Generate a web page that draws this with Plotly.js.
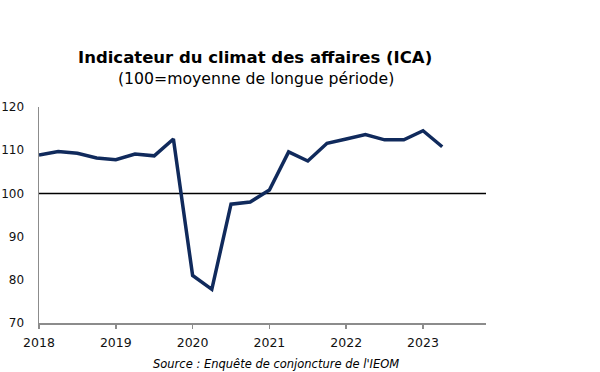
<!DOCTYPE html>
<html>
<head>
<meta charset="utf-8">
<script src="https://cdn.plot.ly/plotly-3.0.1.min.js"></script>
<style>html,body{margin:0;padding:0;background:#fff;}#chart{width:600px;height:372px;}</style>
</head>
<body>
<div id="chart"></div>
<script>
var quarters = ["2018T1","2018T2","2018T3","2018T4","2019T1","2019T2","2019T3","2019T4","2020T1","2020T2","2020T3","2020T4","2021T1","2021T2","2021T3","2021T4","2022T1","2022T2","2022T3","2022T4","2023T1","2023T2"];
var icaValues = [108.9,109.7,109.3,108.2,107.8,109.1,108.7,112.6,81.0,77.8,97.5,98.0,100.8,109.6,107.5,111.6,112.6,113.6,112.4,112.4,114.5,110.8];
var yearTicks = [2018,2019,2020,2021,2022,2023];
var yearLabels = ["2018","2019","2020","2021","2022","2023"];
var referenceLevel = 100;

var xPos = quarters.map(function(q){ return parseInt(q.slice(0,4)) + (parseInt(q.slice(5)) - 1) / 4; });

var font = "DejaVu Sans, Verdana, sans-serif";
var data = [{
  x: xPos, y: icaValues, type: "scatter", mode: "lines",
  line: {color: "#102a5c", width: 3.5},
  hoverinfo: "skip"
}];
var layout = {
  width: 600, height: 372,
  margin: {l: 39, r: 114, t: 107, b: 49},
  paper_bgcolor: "#fff", plot_bgcolor: "#fff",
  showlegend: false,
  xaxis: {
    range: [2018, 2023.82], tickvals: yearTicks, ticktext: yearLabels,
    showgrid: false, zeroline: false, showline: true, linecolor: "#8c8c8c", linewidth: 1.5,
    ticks: "outside", ticklen: 4, tickcolor: "#8c8c8c", tickwidth: 1.5,
    ticklabelstandoff: 3,
    tickfont: {family: font, size: 12.5, color: "#111"}
  },
  yaxis: {
    range: [70, 120], dtick: 10, tick0: 70,
    showgrid: false, zeroline: false, showline: true, linecolor: "#8c8c8c", linewidth: 1.5,
    ticks: "", ticklabelstandoff: 11,
    tickfont: {family: font, size: 12, color: "#111"}
  },
  shapes: [{type: "line", xref: "paper", x0: 0, x1: 1, yref: "y", y0: referenceLevel, y1: referenceLevel,
    line: {color: "#000", width: 1.5}, layer: "below"}],
  annotations: [
    {text: "<b>Indicateur du climat des affaires (ICA)</b>", xref: "paper", yref: "paper",
     x: (254.5-39)/447, y: 1 + (107-58)/215.6, xanchor: "center", yanchor: "middle", showarrow: false,
     font: {family: font, size: 16.5, color: "#000"}},
    {text: "(100=moyenne de longue période)", xref: "paper", yref: "paper",
     x: (255.5-39)/447, y: 1 + (107-79)/215.6, xanchor: "center", yanchor: "middle", showarrow: false,
     font: {family: font, size: 15.7, color: "#000"}},
    {text: "<i>Source : Enquête de conjoncture de l'IEOM</i>", xref: "paper", yref: "paper",
     x: (275.5-39)/447, y: -(364-323)/216, xanchor: "center", yanchor: "middle", showarrow: false,
     font: {family: font, size: 11.5, color: "#000"}}
  ]
};
Plotly.newPlot("chart", data, layout, {displayModeBar: false, staticPlot: true});
</script>
</body>
</html>
